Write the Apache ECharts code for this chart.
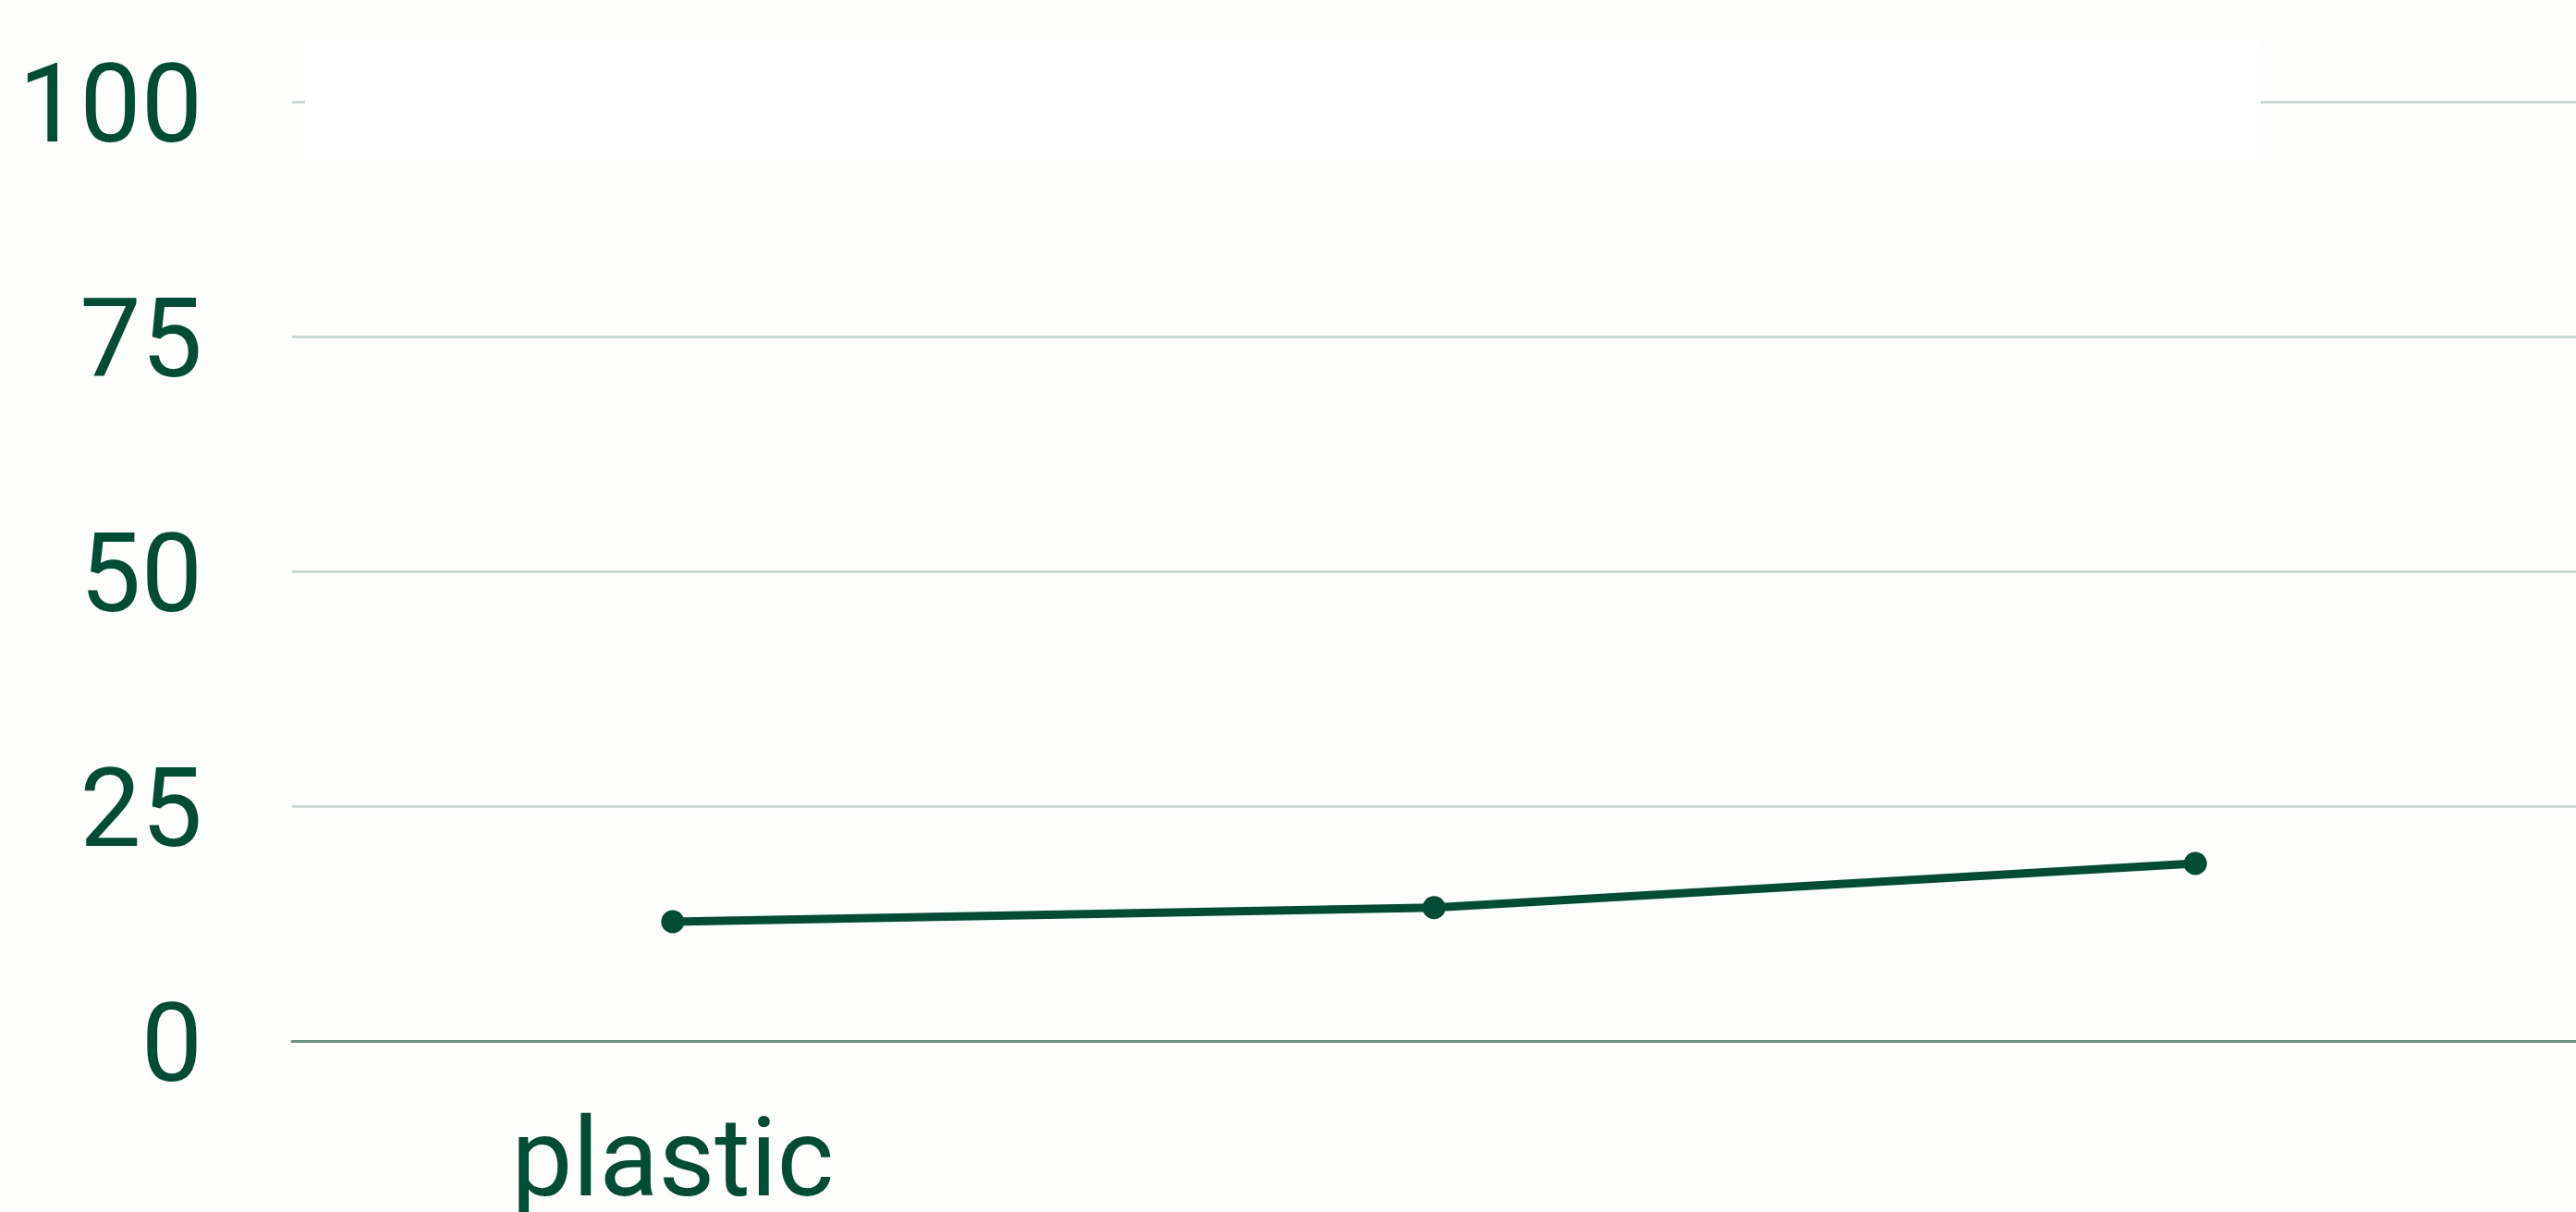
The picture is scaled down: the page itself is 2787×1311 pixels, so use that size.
<!DOCTYPE html>
<html>
<head>
<meta charset="utf-8">
<script src="https://cdn.jsdelivr.net/npm/echarts@6/dist/echarts.min.js"></script>
<style>
html,body{margin:0;padding:0;background:#fdfdfb;}
#chart{width:2787px;height:1311px;}
</style>
</head>
<body>
<div id="chart"></div>
<script>
const categories = ["plastic", " ", "  "];
const values = [12.7, 14.2, 18.9];
const yTicks = [0, 25, 50, 75, 100];

const chart = echarts.init(document.getElementById('chart'));
chart.setOption({
  backgroundColor: '#fdfdfb',
  animation: false,
  textStyle: { fontFamily: 'Roboto' },
  grid: { left: 316, right: 0, top: 110, bottom: 185, containLabel: false, outerBoundsMode: 'none' },
  graphic: [{
    type: 'rect', left: 330, top: 45, z: 100,
    shape: { width: 2116, height: 127 },
    style: { fill: '#ffffff' }
  }],
  xAxis: {
    type: 'category',
    data: categories,
    boundaryGap: true,
    axisLine: { show: true, lineStyle: { color: '#6a9482', width: 3 } },
    axisTick: { show: false },
    axisLabel: { color: '#004d35', fontSize: 118, margin: 78, fontFamily: 'Roboto' }
  },
  yAxis: {
    type: 'value',
    min: yTicks[0], max: yTicks[yTicks.length - 1], interval: 25,
    axisLine: { show: false },
    axisTick: { show: false },
    splitLine: { lineStyle: { color: '#bfd3cc', width: 2.5 } },
    axisLabel: {
      color: '#004d35', fontSize: 118, margin: 97, fontFamily: 'Roboto',
      formatter: '{v|{value}}',
      rich: { v: { color: '#004d35', fontSize: 118, fontFamily: 'Roboto', padding: [26, 0, 0, 0] } }
    }
  },
  series: [{
    type: 'line',
    data: values,
    symbol: 'circle',
    symbolSize: 25,
    lineStyle: { color: '#004d35', width: 9 },
    itemStyle: { color: '#004d35' }
  }]
});
</script>
</body>
</html>
